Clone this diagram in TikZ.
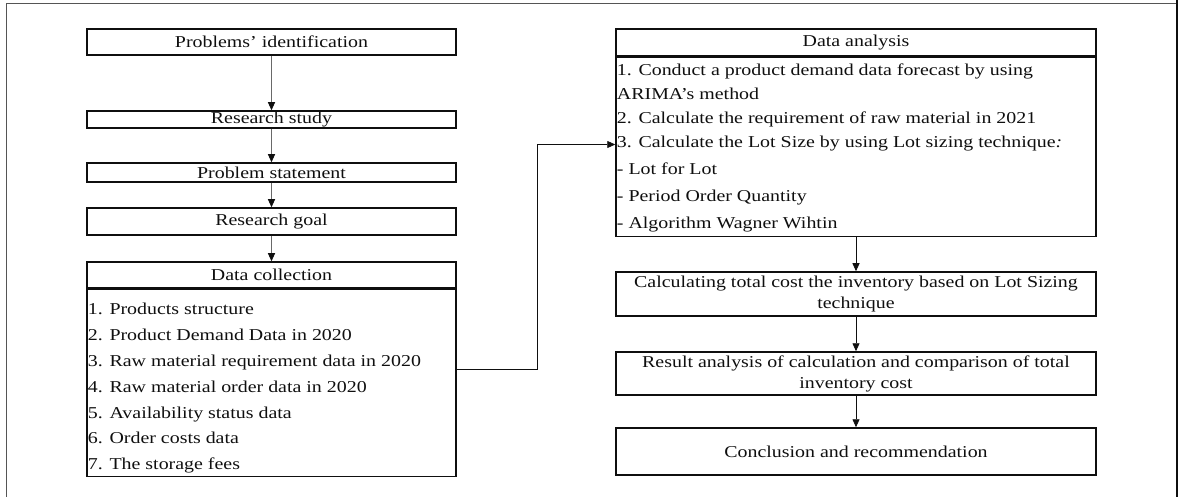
\documentclass[tikz,border=0pt]{standalone}
\usepackage{fontspec}
\setmainfont[FakeStretch=1.2]{Liberation Serif}
\usepackage{xcolor}
\usepackage{tikz}
\usetikzlibrary{arrows.meta,positioning}
\definecolor{ink}{RGB}{15,15,15}
\definecolor{framegray}{RGB}{85,85,85}
\definecolor{shaftgray}{RGB}{105,105,105}
\tikzset{
  stepbox/.style={draw=ink,line width=1.5pt,inner sep=0pt,align=center,
    font=\fontsize{16.6}{21}\selectfont,text=ink},
  leftbox/.style={stepbox,minimum width=369pt},
  rightbox/.style={stepbox,minimum width=480pt},
  itemlist/.style={anchor=north west,inner sep=0pt,align=left,
    font=\fontsize{16.6}{25.8}\selectfont,text=ink},
  flow/.style={line width=0.9pt,shaftgray,-{Triangle[length=8pt,width=7pt,color=ink]}},
  link/.style={line width=0.8pt,ink,-{Triangle[length=8pt,width=7pt]}}
}

\begin{document}
\begin{tikzpicture}[x=1pt,y=-1pt]
  \useasboundingbox (0,0) rectangle (1179,497);
  % page frame
  \draw[framegray,line width=1pt] (6,497) -- (6,4) -- (1176,4);
  \draw[ink,line width=1.2pt] (1177,0) -- (1177,497);

  % left column
  \node[leftbox,minimum height=26pt] (ident) at (271.5,42) {Problems' identification};
  \node[leftbox,minimum height=17pt] (study) at (271.5,119.5) {Research study};
  \node[leftbox,minimum height=19pt] (statement) at (271.5,172.5) {Problem statement};
  \node[leftbox,minimum height=27pt] (goal) at (271.5,221.5) {Research goal};
  \node[leftbox,minimum height=26pt] (collect) at (271.5,275) {Data collection};
  \node[leftbox,minimum height=187pt,anchor=north] (collectbody) at (collect.south) {};
  \node[itemlist] (collectlist) at ([xshift=1.5pt,yshift=-14.5pt]collectbody.north west)
    {1. Products structure\\2. Product Demand Data in 2020\\3. Raw material requirement data in 2020\\
     4. Raw material order data in 2020\\5. Availability status data\\6. Order costs data\\7. The storage fees};

  % right column
  \node[rightbox,minimum height=27pt] (analysis) at (856,42.5) {Data analysis};
  \node[rightbox,minimum height=179pt,anchor=north] (analysisbody) at (analysis.south) {};
  \node[itemlist,font=\fontsize{16.6}{24}\selectfont] (analysislist)
    at ([xshift=1.5pt,yshift=-7pt]analysisbody.north west)
    {1. Conduct a product demand data forecast by using\\ARIMA's method\\
     2. Calculate the requirement of raw material in 2021\\
     3. Calculate the Lot Size by using Lot sizing technique\textit{:}\\[3pt]
     - Lot for Lot\\[3pt]- Period Order Quantity\\[3pt]- Algorithm Wagner Wihtin};
  \node[rightbox,minimum height=44pt] (totalcost) at (856,294)
    {Calculating total cost the inventory based on Lot Sizing\\technique};
  \node[rightbox,minimum height=43pt] (result) at (856,373.5)
    {Result analysis of calculation and comparison of total\\inventory cost};
  \node[rightbox,minimum height=47pt] (conclusion) at (856,451.5) {Conclusion and recommendation};

  % arrows
  \draw[flow] (ident) -- (study);
  \draw[flow] (study) -- (statement);
  \draw[flow] (statement) -- (goal);
  \draw[flow] (goal) -- (collect);
  \draw[link] ([yshift=13.5pt]collectbody.east) -- ++(81,0) |- ([yshift=2.5pt]analysisbody.west);
  \draw[link] (analysisbody) -- (totalcost);
  \draw[link] (totalcost) -- (result);
  \draw[link] (result) -- (conclusion);
\end{tikzpicture}
\end{document}
